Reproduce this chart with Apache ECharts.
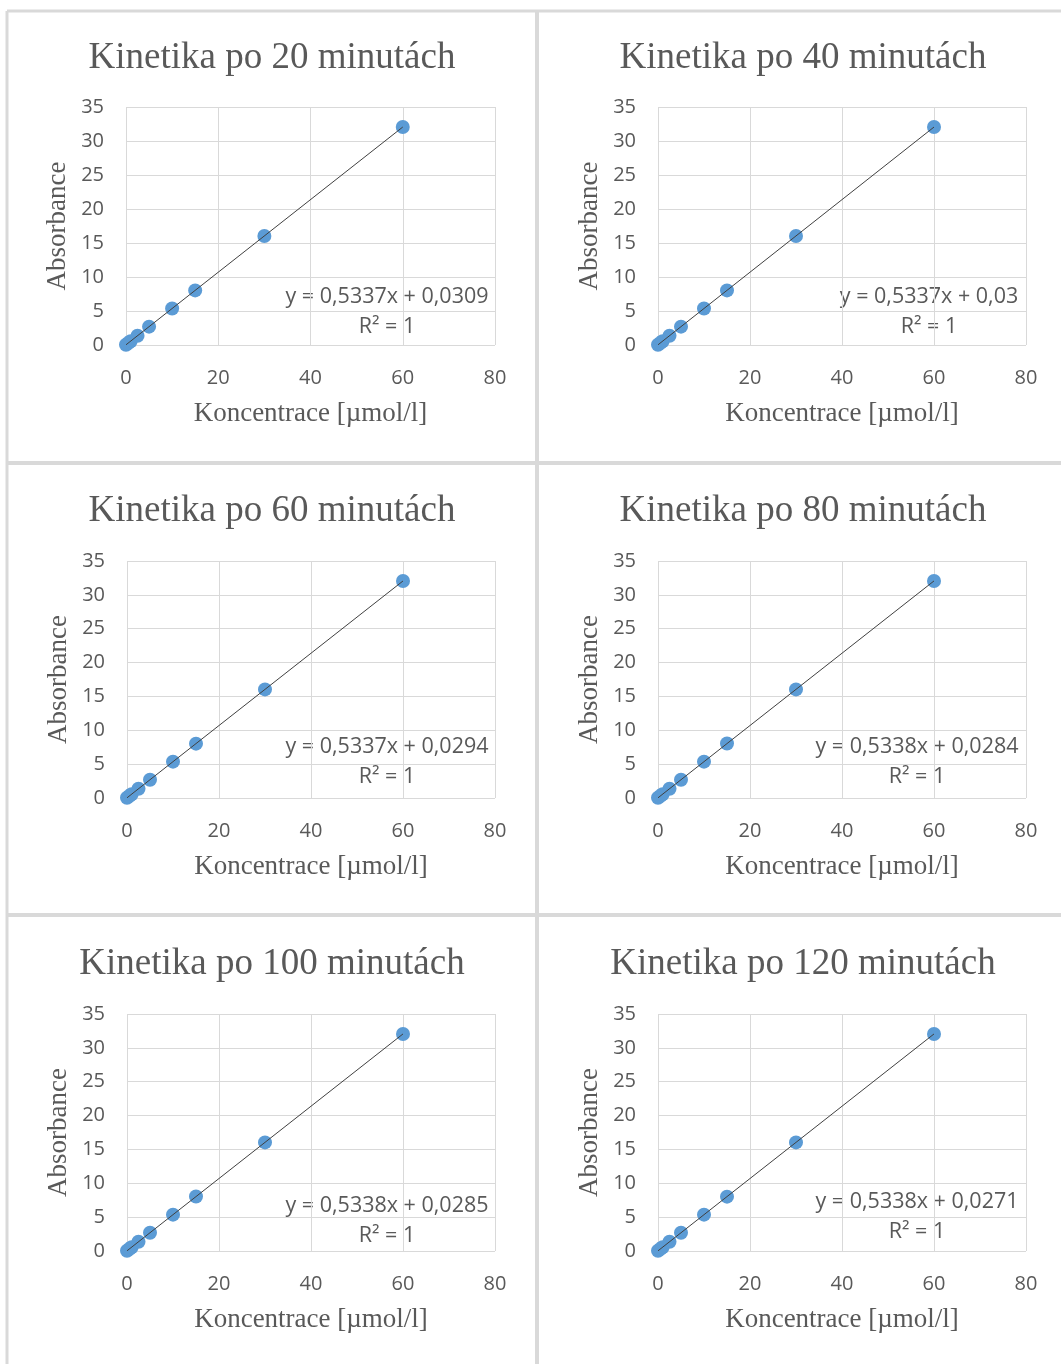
<!DOCTYPE html>
<html>
<head>
<meta charset="utf-8">
<script src="https://cdn.jsdelivr.net/npm/echarts@6/dist/echarts.min.js"></script>
<style>
  html, body { margin: 0; padding: 0; background: #ffffff; }
  #chart { width: 1061px; height: 1364px; }
</style>
</head>
<body>
<div id="chart"></div>
<script>
// ---- data ----
const panelTitles = [
  'Kinetika po 20 minutách',
  'Kinetika po 40 minutách',
  'Kinetika po 60 minutách',
  'Kinetika po 80 minutách',
  'Kinetika po 100 minutách',
  'Kinetika po 120 minutách'
];
const concentrations = [0, 0.5, 1, 2.5, 5, 10, 15, 30, 60];
const absorbance20  = [0.03, 0.30, 0.56, 1.36, 2.70, 5.37, 8.03, 16.04, 32.05];
const absorbance40  = [0.03, 0.30, 0.56, 1.36, 2.70, 5.37, 8.03, 16.04, 32.05];
const absorbance60  = [0.03, 0.30, 0.56, 1.36, 2.70, 5.37, 8.03, 16.04, 32.05];
const absorbance80  = [0.03, 0.29, 0.56, 1.36, 2.70, 5.37, 8.04, 16.04, 32.05];
const absorbance100 = [0.03, 0.29, 0.56, 1.36, 2.70, 5.37, 8.04, 16.04, 32.05];
const absorbance120 = [0.03, 0.29, 0.56, 1.36, 2.70, 5.37, 8.03, 16.04, 32.05];
const slopes     = [0.5337, 0.5337, 0.5337, 0.5338, 0.5338, 0.5338];
const intercepts = [0.0309, 0.03, 0.0294, 0.0284, 0.0285, 0.0271];
const equationTexts = [
  'y = 0,5337x + 0,0309',
  'y = 0,5337x + 0,03',
  'y = 0,5337x + 0,0294',
  'y = 0,5338x + 0,0284',
  'y = 0,5338x + 0,0285',
  'y = 0,5338x + 0,0271'
];
const rSquaredText = 'R² = 1';
const xAxisName = 'Koncentrace [µmol/l]';
const yAxisName = 'Absorbance';
const xAxisMin = 0, xAxisMax = 80, xAxisStep = 20;
const yAxisMin = 0, yAxisMax = 35, yAxisStep = 5;

const allAbsorbance = [absorbance20, absorbance40, absorbance60, absorbance80, absorbance100, absorbance120];

// ---- layout ----
const plotRects = [
  { left: 126, top: 107, width: 369, height: 238 },
  { left: 658, top: 107, width: 368, height: 238 },
  { left: 127, top: 561, width: 368, height: 237 },
  { left: 658, top: 561, width: 368, height: 237 },
  { left: 127, top: 1014, width: 368, height: 237 },
  { left: 658, top: 1014, width: 368, height: 237 }
];
const titleCenters = [267, 798];
const titleTops = [35, 488, 941];
const eqCenters = [387, 929, 387, 917, 387, 917];
const eqMid = [312, 312, 762, 762, 1221, 1217];

const grey = '#595959';
const gridCol = '#d9d9d9';
const sansFont = '"Open Sans", "Liberation Sans", sans-serif';
const serifFont = '"Liberation Serif", "DejaVu Serif", serif';

const option = {
  backgroundColor: '#ffffff',
  animation: false,
  title: [],
  grid: [],
  xAxis: [],
  yAxis: [],
  series: [],
  graphic: []
};

// panel separators
const lineStyle = { stroke: gridCol, lineWidth: 3 };
option.graphic.push(
  { type: 'line', shape: { x1: 7, y1: 11, x2: 1061, y2: 11 }, style: lineStyle, silent: true },
  { type: 'line', shape: { x1: 7, y1: 463, x2: 1061, y2: 463 }, style: { stroke: gridCol, lineWidth: 4 }, silent: true },
  { type: 'line', shape: { x1: 7, y1: 915, x2: 1061, y2: 915 }, style: { stroke: gridCol, lineWidth: 4 }, silent: true },
  { type: 'line', shape: { x1: 7, y1: 11, x2: 7, y2: 1364 }, style: lineStyle, silent: true },
  { type: 'line', shape: { x1: 537, y1: 11, x2: 537, y2: 1364 }, style: { stroke: gridCol, lineWidth: 4 }, silent: true }
);

for (let i = 0; i < 6; i++) {
  const col = i % 2, row = Math.floor(i / 2);
  option.title.push({
    text: panelTitles[i],
    left: titleCenters[col],
    top: titleTops[row],
    textAlign: 'center',
    textStyle: { fontFamily: serifFont, fontSize: 37, fontWeight: 'normal', color: grey }
  });
  option.grid.push(Object.assign({ containLabel: false }, plotRects[i]));
  option.xAxis.push({
    type: 'value', gridIndex: i, min: xAxisMin, max: xAxisMax, interval: xAxisStep,
    name: xAxisName, nameLocation: 'middle', nameGap: 55,
    nameTextStyle: { fontFamily: serifFont, fontSize: 27, color: grey },
    axisLine: { show: false }, axisTick: { show: false },
    axisLabel: { fontFamily: sansFont, fontSize: 20, color: grey, margin: 23 },
    splitLine: { show: true, lineStyle: { color: gridCol, width: 1 } }
  });
  option.yAxis.push({
    type: 'value', gridIndex: i, min: yAxisMin, max: yAxisMax, interval: yAxisStep,
    name: yAxisName, nameLocation: 'middle', nameGap: 55,
    nameTextStyle: { fontFamily: serifFont, fontSize: 27, color: grey },
    axisLine: { show: false }, axisTick: { show: false },
    axisLabel: { fontFamily: sansFont, fontSize: 20, color: grey, margin: 22 },
    splitLine: { show: true, lineStyle: { color: gridCol, width: 1 } }
  });
  const pts = concentrations.map((x, k) => [x, allAbsorbance[i][k]]);
  option.series.push({
    type: 'scatter', xAxisIndex: i, yAxisIndex: i, data: pts,
    symbol: 'circle', symbolSize: 14,
    itemStyle: { color: '#5b9bd5', opacity: 1 }, z: 2
  });
  const xMin = Math.min(...concentrations), xMax = Math.max(...concentrations);
  option.series.push({
    type: 'line', xAxisIndex: i, yAxisIndex: i,
    data: [[xMin, slopes[i] * xMin + intercepts[i]], [xMax, slopes[i] * xMax + intercepts[i]]],
    symbol: 'none', lineStyle: { color: '#404040', width: 1 }, z: 3
  });
  option.graphic.push({
    type: 'text', x: eqCenters[i], y: eqMid[i], silent: true,
    style: {
      text: equationTexts[i] + '\n' + rSquaredText,
      fontFamily: sansFont, fontSize: 21.5, lineHeight: 30, fill: grey,
      textAlign: 'center', textVerticalAlign: 'middle'
    }
  });
}

const chart = echarts.init(document.getElementById('chart'), null, { renderer: 'canvas' });
chart.setOption(option);
</script>
</body>
</html>
